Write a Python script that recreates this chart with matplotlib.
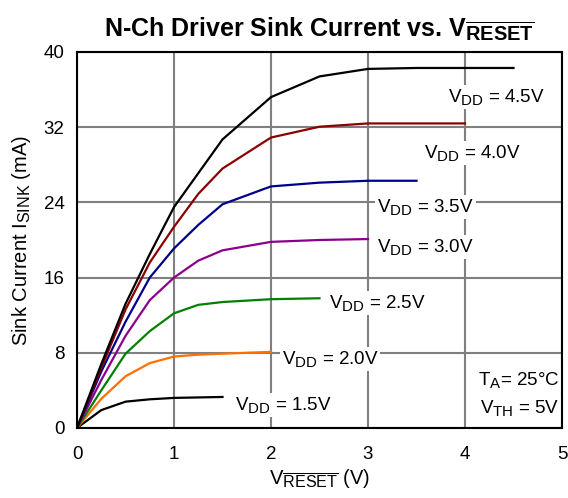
import matplotlib
matplotlib.use("Agg")
import matplotlib.pyplot as plt
import matplotlib._mathtext as _mt

_mt.SHRINK_FACTOR = 0.8

plt.rcParams['font.family'] = ['Liberation Sans', 'DejaVu Sans']
plt.rcParams['mathtext.fontset'] = 'custom'
plt.rcParams['mathtext.rm'] = 'Liberation Sans'
plt.rcParams['mathtext.it'] = 'Liberation Sans:italic'
plt.rcParams['mathtext.bf'] = 'Liberation Sans:bold'

x_all = [0, 0.25, 0.5, 0.75, 1.0, 1.25, 1.5, 2.0, 2.5, 3.0, 3.5, 4.0, 4.5]
vdd_labels = ["1.5", "2.0", "2.5", "3.0", "3.5", "4.0", "4.5"]
i_15 = [0, 1.9, 2.8, 3.05, 3.2, 3.25, 3.3]
i_20 = [0, 3.1, 5.5, 6.9, 7.6, 7.8, 7.9, 8.1]
i_25 = [0, 4.0, 7.9, 10.3, 12.2, 13.1, 13.4, 13.7, 13.8]
i_30 = [0, 5.1, 9.8, 13.6, 16.0, 17.8, 18.9, 19.8, 20.0, 20.1]
i_35 = [0, 6.0, 11.3, 16.0, 19.1, 21.6, 23.8, 25.7, 26.1, 26.3, 26.3]
i_40 = [0, 6.4, 12.6, 17.6, 21.4, 24.9, 27.6, 30.9, 32.05, 32.4, 32.4, 32.4]
i_45 = [0, 6.8, 13.2, 18.5, 23.5, 27.1, 30.7, 35.2, 37.4, 38.2, 38.3, 38.3, 38.3]
series = [i_15, i_20, i_25, i_30, i_35, i_40, i_45]
colors = ['#000000', '#FF7000', '#008000', '#8B008B', '#00008B', '#8B0000', '#000000']
label_pos = [(1.63, 2.4), (2.11, 7.3), (2.6, 13.3), (3.09, 19.3), (3.09, 23.5), (3.58, 29.3), (3.83, 35.2)]

fig = plt.figure(figsize=(5.68, 4.98), dpi=100)
ax = fig.add_axes([0.1356, 0.1406, 0.8538, 0.755])

for ys, c in zip(series, colors):
    ax.plot(x_all[:len(ys)], ys, color=c, lw=1.6, zorder=3)

for lab, (lx, ly) in zip(vdd_labels, label_pos):
    ax.text(lx, ly, r"V$_{\rm DD}$ = " + lab + "V", fontsize=13.5, va='center', ha='left',
            zorder=4, bbox=dict(facecolor='white', edgecolor='none', pad=1.5))

ax.text(4.97, 5.1, r"T$_{\rm A}$= 25°C", fontsize=13.5, va='center', ha='right', zorder=4,
        bbox=dict(facecolor='white', edgecolor='none', pad=1.5))
ax.text(4.97, 2.1, r"V$_{\rm TH}$ = 5V", fontsize=13.5, va='center', ha='right', zorder=4,
        bbox=dict(facecolor='white', edgecolor='none', pad=1.5))

ax.set_xlim(0, 5)
ax.set_ylim(0, 40)
ax.set_xticks([0, 1, 2, 3, 4, 5])
ax.set_yticks([0, 8, 16, 24, 32, 40])
ax.tick_params(length=0, labelsize=13.5)
ax.tick_params(axis='x', pad=13)
ax.tick_params(axis='y', pad=9)
ax.grid(True, color='#808080', lw=1.5, zorder=1)
ax.set_axisbelow(True)
for s in ax.spines.values():
    s.set_linewidth(1.5)
    s.set_zorder(5)

ax.set_xlabel(r"V$_{\overline{\rm RESET}}$ (V)", fontsize=14.5, labelpad=3)
ax.set_ylabel(r"Sink Current I$_{\rm SINK}$ (mA)", fontsize=14.5, labelpad=8)
ax.set_title(r"N-Ch Driver Sink Current vs. V$_{\overline{\mathbf{RESET}}}$", fontsize=18,
             fontweight='bold', pad=11)

fig.savefig("out.png", dpi=100)
